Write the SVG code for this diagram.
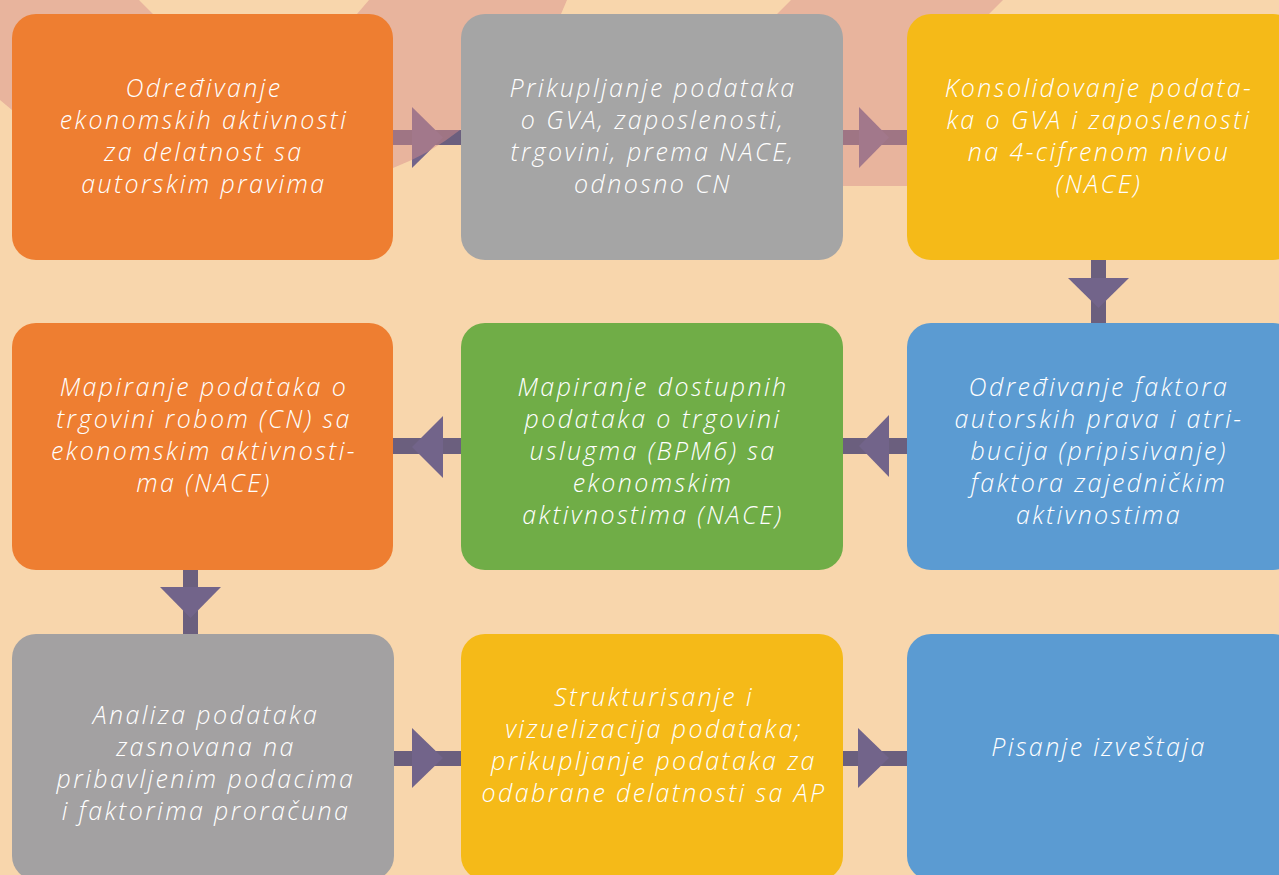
<svg xmlns="http://www.w3.org/2000/svg" width="1279" height="875" viewBox="0 0 1279 875">
<style>
  .box text { font-family: "Open Sans", "Liberation Sans", sans-serif; font-style: italic; font-weight: 300; font-size: 25px; letter-spacing: 2.4px; fill: #ffffff; text-anchor: middle; }
  .shaft { fill: #6B5F7E; }
  .head { fill: #72648A; }
  .deco { fill: #D78E8B; opacity: 0.48; }
</style>
<rect x="0" y="0" width="1279" height="875" fill="#F8D6AC"/>
<g id="connectors">
  <rect class="shaft" x="393" y="130" width="68" height="15"/>
  <polygon class="head" points="412,107 412,168 443,137.5"/>
  <rect class="shaft" x="843" y="130" width="64" height="15"/>
  <polygon class="head" points="859,107 859,168 889,137.5"/>
  <rect class="shaft" x="1091" y="260" width="15" height="63"/>
  <polygon class="head" points="1068,278 1129,278 1098.5,308"/>
  <rect class="shaft" x="843" y="438" width="64" height="16"/>
  <polygon class="head" points="889,415 889,477 859,446"/>
  <rect class="shaft" x="393" y="438" width="68" height="16"/>
  <polygon class="head" points="443,416 443,478 412,447"/>
  <rect class="shaft" x="183" y="570" width="15" height="64"/>
  <polygon class="head" points="160,587 221,587 190.5,618"/>
  <rect class="shaft" x="393" y="751" width="68" height="15"/>
  <polygon class="head" points="412,728 412,788 443,758"/>
  <rect class="shaft" x="843" y="751" width="64" height="15"/>
  <polygon class="head" points="858,728 858,788 889,758"/>
</g>
<g id="decoration">
  <path class="deco" d="M0,0 L139,0 L153,14 L250,110 L100,190 L12,110 L0,100 Z"/>
  <path class="deco" d="M369,0 L567,0 L561,14 L540,60 L480,120 L460,130 A251,251 0 0 1 393,168 L370,180 L300,100 L357,14 Z"/>
  <path class="deco" d="M791,0 L1003,0 L989,14 L950,100 L907,186 L843,186 L820,100 L777,14 Z"/>
</g>
<g id="node1" class="box">
  <rect x="12" y="14" width="381" height="246" rx="24" fill="#EE7E31"/>
  <text x="204" y="97">Određivanje</text>
  <text x="204" y="129">ekonomskih aktivnosti</text>
  <text x="204" y="161">za delatnost sa</text>
  <text x="204" y="193">autorskim pravima</text>
</g>
<g id="node2" class="box">
  <rect x="461" y="14" width="382" height="246" rx="24" fill="#A5A5A5"/>
  <text x="653" y="97">Prikupljanje podataka</text>
  <text x="653" y="129">o GVA, zaposlenosti,</text>
  <text x="653" y="161">trgovini, prema NACE,</text>
  <text x="653" y="193">odnosno CN</text>
</g>
<g id="node3" class="box">
  <rect x="907" y="14" width="390" height="246" rx="24" fill="#F5BA18"/>
  <text x="1099" y="97">Konsolidovanje podata-</text>
  <text x="1099" y="129">ka o GVA i zaposlenosti</text>
  <text x="1099" y="161">na 4-cifrenom nivou</text>
  <text x="1099" y="193">(NACE)</text>
</g>
<g id="node4" class="box">
  <rect x="12" y="323" width="381" height="247" rx="24" fill="#EE7E31"/>
  <text x="204" y="396">Mapiranje podataka o</text>
  <text x="204" y="428">trgovini robom (CN) sa</text>
  <text x="204" y="460">ekonomskim aktivnosti-</text>
  <text x="204" y="492">ma (NACE)</text>
</g>
<g id="node5" class="box">
  <rect x="461" y="323" width="382" height="247" rx="24" fill="#70AD47"/>
  <text x="653" y="396">Mapiranje dostupnih</text>
  <text x="653" y="428">podataka o trgovini</text>
  <text x="653" y="460">uslugma (BPM6) sa</text>
  <text x="653" y="492">ekonomskim</text>
  <text x="653" y="524">aktivnostima (NACE)</text>
</g>
<g id="node6" class="box">
  <rect x="907" y="323" width="390" height="247" rx="24" fill="#5B9BD2"/>
  <text x="1099" y="396">Određivanje faktora</text>
  <text x="1099" y="428">autorskih prava i atri-</text>
  <text x="1099" y="460">bucija (pripisivanje)</text>
  <text x="1099" y="492">faktora zajedničkim</text>
  <text x="1099" y="524">aktivnostima</text>
</g>
<g id="node7" class="box">
  <rect x="12" y="634" width="382" height="246" rx="24" fill="#A3A1A2"/>
  <text x="206" y="724">Analiza podataka</text>
  <text x="206" y="756">zasnovana na</text>
  <text x="206" y="788">pribavljenim podacima</text>
  <text x="206" y="820">i faktorima proračuna</text>
</g>
<g id="node8" class="box">
  <rect x="461" y="634" width="382" height="246" rx="24" fill="#F5BA18"/>
  <text x="654" y="706">Strukturisanje i</text>
  <text x="654" y="738">vizuelizacija podataka;</text>
  <text x="654" y="770">prikupljanje podataka za</text>
  <text x="654" y="802">odabrane delatnosti sa AP</text>
</g>
<g id="node9" class="box">
  <rect x="907" y="634" width="390" height="246" rx="24" fill="#5B9BD2"/>
  <text x="1099" y="756">Pisanje izveštaja</text>
</g>
</svg>
